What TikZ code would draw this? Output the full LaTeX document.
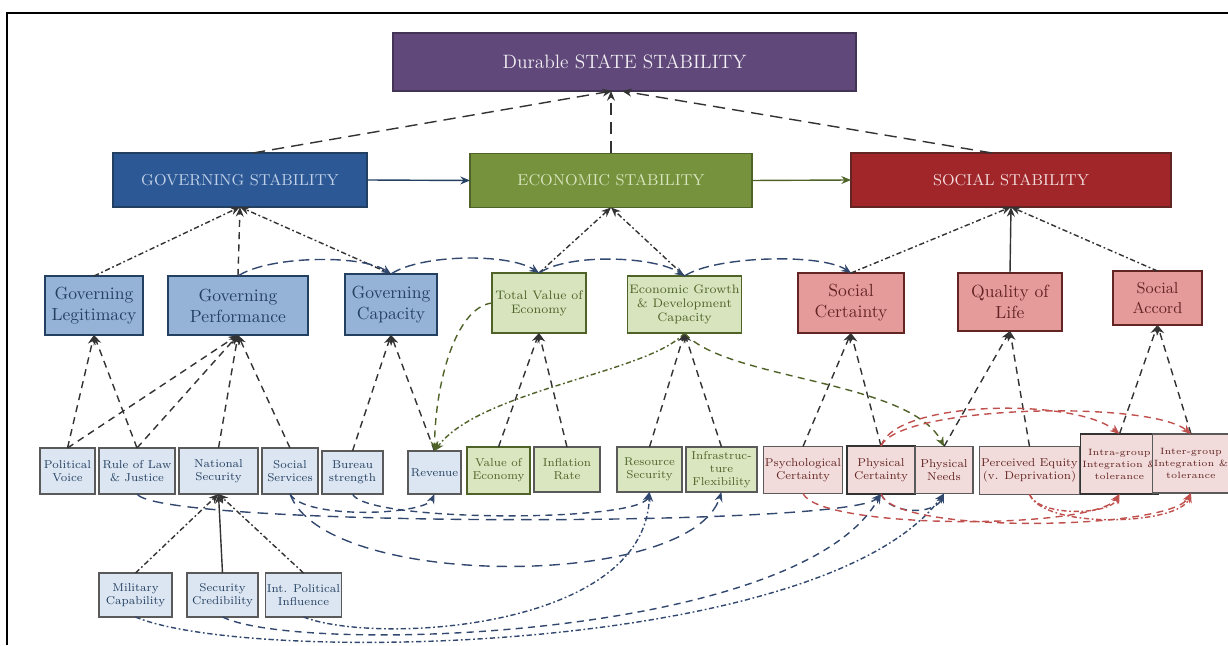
\documentclass[tikz,border=0pt]{standalone}
\usepackage{tikz}
\usetikzlibrary{arrows,arrows.meta,shapes,calc,positioning}
\definecolor{darkPurple}{RGB}{96,73,122}
\definecolor{govBlue}{RGB}{44,88,150}
\definecolor{ecoGreen}{RGB}{118,146,60}
\definecolor{socRed}{RGB}{160,38,42}
\definecolor{govBlueMid}{RGB}{149,179,215}
\definecolor{ecoGreenMid}{RGB}{215,228,189}
\definecolor{socRedMid}{RGB}{230,155,155}
\definecolor{paleBlue}{RGB}{220,230,242}
\definecolor{paleGreen}{RGB}{218,230,192}
\definecolor{palePink}{RGB}{242,220,219}
\definecolor{navyEdge}{RGB}{36,64,97}
\definecolor{oliveEdge}{RGB}{79,98,40}
\definecolor{maroonEdge}{RGB}{99,37,35}
\definecolor{grayEdge}{RGB}{90,90,90}
\definecolor{lineBlue}{RGB}{50,72,110}
\definecolor{lineRed}{RGB}{192,80,77}
\definecolor{lineGreen}{RGB}{79,98,40}
\tikzstyle{box}=[rectangle, draw, inner sep=1pt, outer sep=0pt,
                 align=center, line width=0.8pt]
\tikzstyle{topbox}=[box, font=\small]
\tikzstyle{midbox}=[box, font=\normalsize]
\tikzstyle{lowbox}=[box, line width=0.6pt,
                    font=\fontsize{6.5}{7.5}\selectfont]
\tikzstyle{link}=[->, >={Stealth[length=5.5pt,width=4.5pt]}, line width=0.8pt, black!80]
\tikzstyle{dashlink}=[link, dash pattern=on 4pt off 3pt]
\tikzstyle{dotlink}=[link, dash pattern=on 3pt off 1.5pt on 1pt off 1.5pt]
\tikzstyle{toplink}=[link, dash pattern=on 7pt off 4pt]
\tikzstyle{buslink}=[link, lineBlue, dash pattern=on 6pt off 3pt]

\begin{document}
\begin{tikzpicture}
    \useasboundingbox (0,0) rectangle (24.56,12.90);
    \draw [line width=1.2pt] (0.14,0) -- (0.14,12.64) -- (24.56,12.64);

    % stability boxes
    \draw (12.49,11.66) node (dss) [topbox,fill=darkPurple,draw=darkPurple!70!black,text=white!92!darkPurple,
        minimum width=9.26cm,minimum height=1.16cm,font=\fontsize{11}{13}\selectfont] {Durable STATE STABILITY};
    \draw (4.80,9.30) node (gst) [topbox,fill=govBlue,draw=navyEdge,text=govBlueMid!60!white,
        minimum width=5.08cm,minimum height=1.08cm] {GOVERNING STABILITY};
    \draw (12.22,9.29) node (est) [topbox,fill=ecoGreen,draw=oliveEdge,text=ecoGreenMid,
        minimum width=5.64cm,minimum height=1.08cm] {ECONOMIC STABILITY};
    \draw (20.22,9.30) node (sst) [topbox,fill=socRed,draw=maroonEdge,text=palePink,
        minimum width=6.40cm,minimum height=1.08cm] {SOCIAL STABILITY};

    % second level
    \draw (1.88,6.79) node (glegit) [midbox,fill=govBlueMid,draw=navyEdge,text=navyEdge,
        minimum width=1.96cm,minimum height=1.18cm] {Governing\\Legitimacy};
    \draw (4.76,6.79) node (gperf) [midbox,fill=govBlueMid,draw=navyEdge,text=navyEdge,
        minimum width=2.80cm,minimum height=1.18cm] {Governing\\Performance};
    \draw (7.82,6.81) node (gcap) [midbox,fill=govBlueMid,draw=navyEdge,text=navyEdge,
        minimum width=1.84cm,minimum height=1.22cm] {Governing\\Capacity};
    \draw (10.78,6.84) node (tval) [midbox,fill=ecoGreenMid,draw=oliveEdge,text=oliveEdge,
        minimum width=1.88cm,minimum height=1.20cm,font=\scriptsize] {Total Value of\\Economy};
    \draw (13.69,6.81) node (egrowth) [midbox,fill=ecoGreenMid,draw=oliveEdge,text=oliveEdge,
        minimum width=2.14cm,minimum height=1.14cm,font=\scriptsize] {Economic Growth\\\& Development\\Capacity};
    \draw (17.02,6.84) node (scert) [midbox,fill=socRedMid,draw=maroonEdge,text=maroonEdge,
        minimum width=2.12cm,minimum height=1.20cm] {Social\\Certainty};
    \draw (20.20,6.86) node (qol) [midbox,fill=socRedMid,draw=maroonEdge,text=maroonEdge,
        minimum width=2.08cm,minimum height=1.16cm] {Quality of\\Life};
    \draw (23.15,6.94) node (saccord) [midbox,fill=socRedMid,draw=maroonEdge,text=maroonEdge,
        minimum width=1.78cm,minimum height=1.08cm,font=\small] {Social\\Accord};

    % third level
    \draw (1.35,3.48) node (pvoice) [lowbox,fill=paleBlue,draw=grayEdge,text=navyEdge,
        minimum width=1.10cm,minimum height=0.92cm] {Political\\Voice};
    \draw (2.74,3.48) node (rlaw) [lowbox,fill=paleBlue,draw=grayEdge,text=navyEdge,
        minimum width=1.52cm,minimum height=0.92cm] {Rule of Law\\\& Justice};
    \draw (4.37,3.48) node (nsec) [lowbox,fill=paleBlue,draw=grayEdge,text=navyEdge,
        minimum width=1.58cm,minimum height=0.92cm] {National\\Security};
    \draw (5.80,3.48) node (ssvc) [lowbox,fill=paleBlue,draw=grayEdge,text=navyEdge,
        minimum width=1.12cm,minimum height=0.92cm] {Social\\Services};
    \draw (7.05,3.45) node (bureau) [lowbox,fill=paleBlue,draw=grayEdge,text=navyEdge,
        minimum width=1.22cm,minimum height=0.86cm] {Bureau\\strength};
    \draw (8.69,3.45) node (revenue) [lowbox,fill=paleBlue,draw=grayEdge,text=navyEdge,
        minimum width=1.06cm,minimum height=0.86cm] {Revenue};
    \draw (9.97,3.49) node (vecon) [lowbox,fill=paleGreen,draw=oliveEdge,text=oliveEdge,
        minimum width=1.26cm,minimum height=0.94cm] {Value of\\Economy};
    \draw (11.34,3.51) node (infl) [lowbox,fill=paleGreen,draw=grayEdge,text=oliveEdge,
        minimum width=1.32cm,minimum height=0.90cm] {Inflation\\Rate};
    \draw (12.99,3.51) node (rsec) [lowbox,fill=paleGreen,draw=grayEdge,text=oliveEdge,
        minimum width=1.30cm,minimum height=0.90cm] {Resource\\Security};
    \draw (14.43,3.51) node (infra) [lowbox,fill=paleGreen,draw=grayEdge,text=oliveEdge,
        minimum width=1.42cm,minimum height=0.90cm] {Infrastruc-\\ture\\Flexibility};
    \draw (16.06,3.50) node (psych) [lowbox,fill=palePink,draw=grayEdge,text=maroonEdge,
        minimum width=1.48cm,minimum height=0.94cm] {Psychological\\Certainty};
    \draw (17.62,3.50) node (pcert) [lowbox,fill=palePink,draw=black!80,line width=1pt,text=maroonEdge,
        minimum width=1.36cm,minimum height=0.96cm] {Physical\\Certainty};
    \draw (18.88,3.50) node (pneeds) [lowbox,fill=palePink,draw=grayEdge,text=maroonEdge,
        minimum width=1.16cm,minimum height=0.94cm] {Physical\\Needs};
    \draw (20.59,3.49) node (pequity) [lowbox,fill=palePink,draw=grayEdge,line width=0.9pt,text=maroonEdge,
        minimum width=1.98cm,minimum height=0.96cm] {Perceived Equity\\(v. Deprivation)};
    \draw (22.39,3.62) node (intra) [lowbox,fill=palePink,draw=black!80,line width=1pt,text=maroonEdge,
        minimum width=1.42cm,minimum height=1.20cm,font=\fontsize{5.2}{6.8}\selectfont] {Intra-group\\Integration \&\\tolerance};
    \draw (23.82,3.63) node (inter) [lowbox,fill=palePink,draw=grayEdge,text=maroonEdge,
        minimum width=1.44cm,minimum height=1.18cm,font=\fontsize{5.2}{6.8}\selectfont] {Inter-group\\Integration \&\\tolerance};

    % fourth level
    \draw (2.71,1.00) node (milcap) [lowbox,fill=paleBlue,draw=grayEdge,text=navyEdge,
        minimum width=1.46cm,minimum height=0.88cm] {Military\\Capability};
    \draw (4.45,1.00) node (seccred) [lowbox,fill=paleBlue,draw=grayEdge,text=navyEdge,
        minimum width=1.42cm,minimum height=0.88cm] {Security\\Credibility};
    \draw (6.07,1.00) node (intpol) [lowbox,fill=paleBlue,draw=grayEdge,text=navyEdge,
        minimum width=1.46cm,minimum height=0.88cm] {Int. Political\\Influence};

    % towards the top box
    \draw [toplink] ([xshift=2.6mm]gst.north) to ([xshift=-2.5mm]dss.south);
    \draw [toplink] (est.north) to (est.north |- dss.south);
    \draw [toplink] ([xshift=-3.8mm]sst.north) to ([xshift=-0.5mm]dss.south);
    \draw [link,navyEdge] (gst.east) to (est.west);
    \draw [link,oliveEdge] (est.east) to (sst.west);

    % second level to stability boxes
    \foreach \i/\j in {glegit/gst,gcap/gst,tval/est,egrowth/est,scert/sst,saccord/sst}
    \draw [dotlink] (\i.north) to (\j.south);
    \draw [dashlink] (gperf.north) to (gst.south);
    \draw [link] (qol.north) to (sst.south);

    % third level to second level
    \foreach \i/\j in {pvoice/glegit,rlaw/glegit,pvoice/gperf,rlaw/gperf,nsec/gperf,ssvc/gperf,
        bureau/gcap,revenue/gcap,vecon/tval,infl/tval,rsec/egrowth,infra/egrowth,
        psych/scert,pcert/scert,pneeds/qol,pequity/qol,intra/saccord,inter/saccord}
    \draw [dashlink] (\i.north) to (\j.south);

    % fourth level to national security
    \foreach \i in {milcap,intpol}
    \draw [dotlink] (\i.north) to (nsec.south);
    \draw [link] (seccred.north) to (nsec.south);

    % performance bus
    \foreach \i/\j in {gperf/gcap,gcap/tval,tval/egrowth,egrowth/scert}
    \draw [buslink] (\i.north) .. controls +(0.6,0.4) and +(-0.6,0.4) .. (\j.north);

    % economic links
    \draw [dashlink,lineGreen] (tval.west) .. controls (9.1,6.75) and (8.7,5.2) .. (revenue.north);
    \draw [dotlink,lineGreen] (egrowth.south) .. controls (13.0,5.45) and (9.6,5.1) .. (revenue.north);
    \draw [dashlink,lineGreen] (egrowth.south) .. controls (14.5,5.3) and (18.2,5.3) .. (pneeds.north);

    % lower blue links
    \draw [dashlink,lineBlue,dash pattern=on 6pt off 4pt] (rlaw.south) .. controls (3.2,2.35) and (17.0,2.35) .. (pcert.south);
    \draw [dashlink,lineBlue] (ssvc.south) .. controls (6.1,2.5) and (8.5,2.6) .. (revenue.south);
    \draw [dashlink,lineBlue,dash pattern=on 6pt off 4pt] (ssvc.south) .. controls (6.5,1.1) and (13.8,1.1) .. (infra.south);
    \draw [dashlink,lineBlue] (bureau.south) .. controls (7.3,2.45) and (12.8,2.45) .. (rsec.south);
    \draw [dashlink,lineBlue] (pcert.south) .. controls (17.8,2.6) and (18.7,2.6) .. (pneeds.south);
    \draw [dotlink,lineBlue] (milcap.south) .. controls (5.0,-0.4) and (16.5,-0.2) .. (pneeds.south);
    \draw [dashlink,lineBlue] (seccred.south) .. controls (6.0,-0.2) and (16.0,0.1) .. (pcert.south);
    \draw [dotlink,lineBlue] (intpol.south) .. controls (7.5,0.0) and (12.9,0.3) .. (rsec.south);

    % social links
    \draw [dashlink,lineRed] (psych.south) .. controls (16.4,2.3) and (21.9,2.3) .. (intra.south);
    \draw [dashlink,lineRed] (pcert.south) .. controls (17.9,2.2) and (23.4,2.3) .. (inter.south);
    \draw [dotlink,lineRed] (pequity.south) .. controls (20.8,2.55) and (22.2,2.6) .. (intra.south);
    \draw [dotlink,lineRed] (pequity.south) .. controls (20.9,2.3) and (23.6,2.4) .. (inter.south);
    \draw [dashlink,lineRed] (pcert.north) .. controls (17.9,4.9) and (21.5,4.95) .. (intra.north);
    \draw [dashlink,lineRed] (pcert.north) .. controls (18.0,4.8) and (23.0,4.9) .. (inter.north);
\end{tikzpicture}
\end{document}
